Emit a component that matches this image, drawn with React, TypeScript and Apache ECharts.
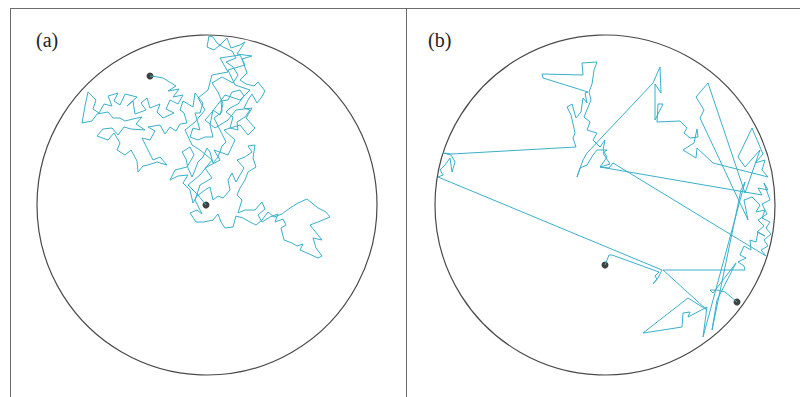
import React, { useEffect, useRef } from "react";
import * as echarts from "echarts";

// Walker positions (image-space units, y grows downward), panel (a): diffusion inside the disk
const walkA: number[][] = [
  [150,76],[158,77],[163,78],[176,86],[168,91],[179,89],[173,97],[183,95],[178,104],[170,100],[166,109],[174,113],[163,118],[157,112],[160,104],[150,108],[147,98],[141,103],[146,110],[135,114],[133,101],[127,106],[137,97],[125,94],[120,105],[114,101],[118,93],[108,96],[112,106],[104,104],[99,113],[93,109],[96,100],[88,92],[85,106],[82,123],[92,121],[97,114],[108,112],[113,118],[120,118],[125,121],[133,119],[142,117],[136,124],[145,130],[131,129],[124,127],[118,135],[112,128],[103,129],[97,136],[108,140],[114,133],[120,143],[117,150],[125,155],[131,150],[137,161],[138,172],[143,166],[148,165],[157,162],[167,165],[160,157],[153,160],[147,148],[142,138],[150,140],[155,131],[148,127],[160,125],[165,134],[170,127],[176,131],[180,124],[187,123],[184,113],[180,110],[183,101],[193,107],[195,93],[203,103],[200,113],[195,113],[200,130],[193,128],[190,137],[198,140],[205,137],[213,137],[210,125],[213,110],[220,115],[223,104],[218,92],[212,83],[222,77],[233,83],[238,75],[233,67],[226,62],[236,58],[232,51],[223,47],[217,43],[213,37],[209,36],[207,47],[214,50],[220,45],[227,38],[231,48],[240,45],[245,42],[237,54],[252,56],[242,59],[247,73],[240,80],[246,84],[254,86],[258,82],[265,91],[261,98],[257,103],[252,94],[248,100],[244,108],[250,110],[245,117],[237,122],[238,130],[230,128],[233,117],[226,112],[230,108],[238,104],[244,96],[240,90],[232,92],[228,100],[221,101],[222,112],[214,118],[218,126],[222,134],[226,142],[222,146],[218,157],[213,163],[210,152],[207,148],[203,157],[198,162],[195,170],[192,177],[188,168],[186,159],[182,152],[190,147],[194,155],[187,167],[175,170],[170,180],[178,176],[188,175],[183,183],[190,190],[193,203],[197,196],[205,190],[210,187],[213,200],[218,196],[223,198],[230,190],[228,180],[232,173],[236,182],[240,175],[244,168],[237,160],[245,157],[252,152],[248,146],[255,145],[253,158],[256,167],[248,172],[245,180],[240,188],[237,195],[242,200],[238,213],[245,210],[255,210],[262,202],[265,209],[258,215],[262,222],[270,217],[278,214],[275,222],[283,219],[286,225],[281,228],[284,240],[292,243],[297,246],[303,244],[300,250],[307,253],[318,258],[322,256],[316,248],[313,238],[322,240],[310,225],[318,222],[330,217],[326,212],[318,208],[307,199],[298,203],[290,208],[282,214],[274,217],[268,212],[262,220],[256,225],[250,222],[243,218],[236,216],[233,227],[225,228],[221,222],[218,214],[213,220],[204,222],[196,222],[190,213],[197,210],[202,214],
  [195,200],[200,185],[212,178],[205,168],[220,160],[214,150],[228,155],[235,140],[224,130],[240,125],[248,135],[255,128],[246,118],[252,108],[236,110],[228,120],[215,128],[205,120],[212,112],[225,95],[240,100],[250,90],[235,85],[228,70],[245,65],[240,55],[220,58],[228,72],[212,75],[208,90],[198,98],[205,110],[195,122],[185,130],[192,145],[200,150],[212,160],[200,175],[188,185],[198,195],[206,205]
];

// Panel (b): walk with long jumps
const walkB: number[][] = [
  [605,265],[609,255],[612,255],[659,272],[655,276],[657,279],[653,284],[658,278],[662,270],
  [438,177],[443,175],[440,170],[445,165],[450,158],[452,172],[455,162],[451,155],[443,153],[452,154],
  [576,147],[573,138],[575,133],[571,115],[567,107],[572,104],[576,118],[581,112],[583,98],[587,103],[585,93],[588,92],
  [543,78],[542,74],[583,75],[582,63],[597,62],[594,70],[592,84],[589,92],[591,100],[584,117],[590,122],[587,130],[597,133],[593,140],[600,147],[605,140],[603,150],[607,157],[600,167],[610,164],[603,153],[607,150],[597,150],[593,155],[587,165],[580,168],[577,177],[583,160],[587,153],
  [653,83],[660,67],[661,93],[655,84],[655,120],[663,104],[658,104],[657,122],[680,121],[687,128],[684,133],[690,138],[698,137],[697,129],[694,143],[683,150],[696,158],[697,148],[713,163],[768,177],
  [762,170],[765,160],[755,163],[763,154],[752,128],[738,157],[745,167],[760,150],[745,193],[708,83],[696,97],[704,110],[700,118],
  [748,220],[744,200],[752,197],[760,205],[756,212],[765,210],[762,218],[770,222],[766,228],[771,234],[764,240],[768,246],[761,250],[766,256],
  [613,163],[609,168],[600,167],[762,195],[758,188],[768,190],[764,183],[770,200],[762,204],[767,214],[758,220],[764,226],[757,232],
  [765,236],[758,232],[756,242],[750,240],[751,250],[744,246],[740,255],[746,258],[738,262],[744,266],[745,270],[663,270],
  [707,310],[688,298],[643,333],[650,332],[682,327],[683,313],[690,312],[688,317],[707,307],
  [703,337],[745,182],[741,190],[712,330],[717,300],[736,263],[713,293],[710,290],[717,290],[725,292],[737,302]
];

const startA = [[150, 76]];
const endA = [[206, 205]];
const startB = [[605, 265]];
const endB = [[737, 302]];

// Boundary disks: centre x, centre y, radius (same units)
const diskA = [[207, 205, 170]];
const diskB = [[605, 205, 170]];

const panelLabels = ["(a)", "(b)"];

const WALK_COLOR = "#3aafca";

export default function App() {
  const ref = useRef<HTMLDivElement>(null);
  useEffect(() => {
    if (!ref.current) return;
    const chart = echarts.init(ref.current, undefined, { renderer: "svg" });
    const circleRender = (params: any, api: any) => {
      const c = api.coord([api.value(0), api.value(1)]);
      const s = api.size([api.value(2), api.value(2)]);
      return {
        type: "circle",
        shape: { cx: c[0], cy: c[1], r: s[0] },
        style: { fill: "none", stroke: "#4a4a4a", lineWidth: 1.2 },
      };
    };
    const axisCommon = { show: false, type: "value" as const };
    chart.setOption({
      animation: false,
      backgroundColor: "#ffffff",
      grid: [
        { left: 37, top: 35, width: 340, height: 340 },
        { left: 435, top: 35, width: 340, height: 340 },
      ],
      xAxis: [
        { ...axisCommon, gridIndex: 0, min: 37, max: 377 },
        { ...axisCommon, gridIndex: 1, min: 435, max: 775 },
      ],
      yAxis: [
        { ...axisCommon, gridIndex: 0, min: 35, max: 375, inverse: true },
        { ...axisCommon, gridIndex: 1, min: 35, max: 375, inverse: true },
      ],
      graphic: [
        { type: "line", shape: { x1: 10, y1: 8.5, x2: 800, y2: 8.5 }, style: { stroke: "#6b6b6b", lineWidth: 1 } },
        { type: "line", shape: { x1: 10.5, y1: 8, x2: 10.5, y2: 397 }, style: { stroke: "#6b6b6b", lineWidth: 1 } },
        { type: "line", shape: { x1: 406.5, y1: 8, x2: 406.5, y2: 397 }, style: { stroke: "#6b6b6b", lineWidth: 1 } },
        { type: "text", left: 36, top: 30, style: { text: panelLabels[0], font: '20px "Liberation Serif", serif', fill: "#222" } },
        { type: "text", left: 428, top: 30, style: { text: panelLabels[1], font: '20px "Liberation Serif", serif', fill: "#222" } },
      ],
      series: [
        { type: "custom", xAxisIndex: 0, yAxisIndex: 0, data: diskA, renderItem: circleRender, clip: false, silent: true },
        { type: "custom", xAxisIndex: 1, yAxisIndex: 1, data: diskB, renderItem: circleRender, clip: false, silent: true },
        { type: "line", xAxisIndex: 0, yAxisIndex: 0, data: walkA, symbol: "none", smooth: false, lineStyle: { color: WALK_COLOR, width: 1 } },
        { type: "line", xAxisIndex: 1, yAxisIndex: 1, data: walkB, symbol: "none", smooth: false, lineStyle: { color: WALK_COLOR, width: 1 } },
        { type: "scatter", xAxisIndex: 0, yAxisIndex: 0, data: [...startA, ...endA], symbolSize: 7, itemStyle: { color: "#111" } },
        { type: "scatter", xAxisIndex: 1, yAxisIndex: 1, data: [...startB, ...endB], symbolSize: 7, itemStyle: { color: "#111" } },
      ],
    });
    return () => chart.dispose();
  }, []);
  return (
    <div
      ref={ref}
      style={{ position: "fixed", left: 0, top: 0, width: 800, height: 397, background: "#fff" }}
    />
  );
}
